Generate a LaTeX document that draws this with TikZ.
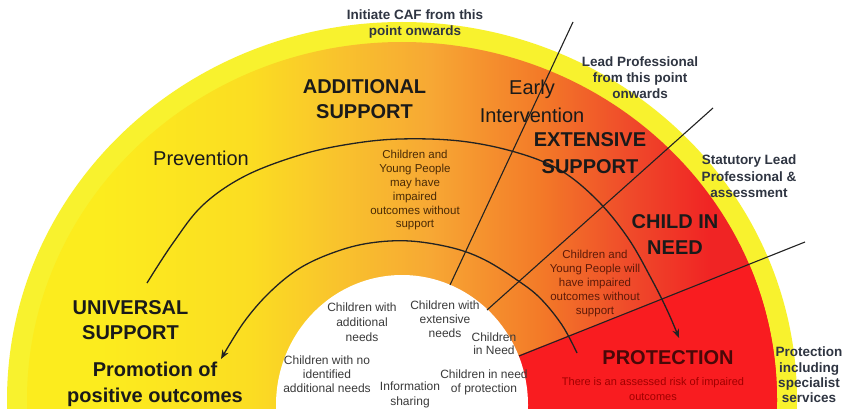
\documentclass[tikz,border=0pt]{standalone}
\usepackage{fontspec}
\setmainfont{Liberation Sans}
\usetikzlibrary{arrows.meta}
\definecolor{band}{HTML}{F8F22E}
\definecolor{g0}{HTML}{FCEC1E}
\definecolor{g1}{HTML}{FBDD22}
\definecolor{g2}{HTML}{F9C52C}
\definecolor{g3}{HTML}{F7A834}
\definecolor{g4}{HTML}{F37A28}
\definecolor{g5}{HTML}{EF4A2A}
\definecolor{g6}{HTML}{F02424}
\definecolor{protred}{HTML}{F91C20}
\definecolor{slate}{HTML}{2F3542}
\definecolor{bigtxt}{HTML}{1A1A1A}
\definecolor{browntxt}{HTML}{4A2A05}
\definecolor{redbrown}{HTML}{5E1A08}
\definecolor{graytxt}{HTML}{3A3A3A}
\definecolor{protdark}{HTML}{4A0808}
\definecolor{risktxt}{HTML}{A00000}
\definecolor{linecol}{HTML}{222222}
\tikzset{
  bigbold/.style={font=\bfseries\fontsize{20}{25}\selectfont, align=center, inner sep=0pt, text=bigtxt},
  bigreg/.style={font=\fontsize{20}{28}\selectfont, align=center, inner sep=0pt, text=bigtxt},
  smallbold/.style={font=\bfseries\fontsize{13.5}{16}\selectfont, align=center, inner sep=0pt, text=slate},
  orangetxt/.style={font=\fontsize{11.5}{13.8}\selectfont, align=center, inner sep=0pt},
  whitetxt/.style={font=\fontsize{12}{14.5}\selectfont, align=center, inner sep=0pt, text=graytxt},
  divider/.style={draw=linecol, line width=1.1pt},
  flowarc/.style={draw=linecol, line width=1.3pt},
}
\begin{document}
\begin{tikzpicture}[x=1pt,y=-1pt]
\useasboundingbox (0,0) rectangle (845,409);
\fill[white] (0,0) rectangle (845,409);
\begin{scope}
  \clip (0,0) rectangle (845,409);
  \fill[band] (402,400) ellipse [x radius=395pt, y radius=378pt];
  \begin{scope}
    \clip (402,400) ellipse [x radius=375pt, y radius=358pt];
    \fill[g0] (0,0) rectangle (100.5,409);
    \shade[left color=g0, right color=g1] (100,0) rectangle (250.5,409);
    \shade[left color=g1, right color=g2] (250,0) rectangle (330.5,409);
    \shade[left color=g2, right color=g3] (330,0) rectangle (430.5,409);
    \shade[left color=g3, right color=g4] (430,0) rectangle (540.5,409);
    \shade[left color=g4, right color=g5] (540,0) rectangle (630.5,409);
    \shade[left color=g5, right color=g6] (630,0) rectangle (710.5,409);
    \fill[g6] (710,0) rectangle (845,409);
    \fill[protred] (470,374.6) -- (845,226.2) -- (845,420) -- (470,420) -- cycle;
  \end{scope}
  \fill[white] (402,405) ellipse [x radius=126pt, y radius=130pt];
\end{scope}

% divider lines
\coordinate (l1a) at (573,22);  \coordinate (l1b) at (450,285);
\coordinate (l2a) at (713,108); \coordinate (l2b) at (487,310);
\coordinate (l3a) at (805,242); \coordinate (l3b) at (519,356);
\draw[divider] (l1a) -- (l1b);
\draw[divider] (l2a) -- (l2b);
\draw[divider] (l3a) -- (l3b);

% outer arc
\coordinate (a1) at (147,283);  \coordinate (a2) at (173,243);
\coordinate (a3) at (203,205);  \coordinate (a4) at (245,176);
\coordinate (a5) at (300,155);  \coordinate (a6) at (350,144);
\coordinate (a7) at (400,139);  \coordinate (a8) at (460,141);
\coordinate (a9) at (515,152);  \coordinate (a10) at (560,170);
\coordinate (a11) at (597,200); \coordinate (a12) at (628,238);
\coordinate (a13) at (652,280); \coordinate (a14) at (668,312);
\coordinate (a15) at (679,338);
\draw[flowarc, -{Stealth[length=9pt,width=7pt]}] plot[smooth, tension=0.6] coordinates {(a1) (a2) (a3) (a4) (a5) (a6) (a7) (a8) (a9) (a10) (a11) (a12) (a13) (a14) (a15)};

% inner arc
\coordinate (b1) at (577,353);  \coordinate (b2) at (562,325);
\coordinate (b3) at (540,298);  \coordinate (b4) at (517,280);
\coordinate (b5) at (485,260);  \coordinate (b6) at (453,248);
\coordinate (b7) at (410,241);  \coordinate (b8) at (370,243);
\coordinate (b9) at (335,252);  \coordinate (b10) at (300,268);
\coordinate (b11) at (270,292); \coordinate (b12) at (244,322);
\coordinate (b13) at (221,359);
\draw[flowarc, -{Stealth[length=9pt,width=7pt]}] plot[smooth, tension=0.6] coordinates {(b1) (b2) (b3) (b4) (b5) (b6) (b7) (b8) (b9) (b10) (b11) (b12) (b13)};

% labels
\node[smallbold] (caf) at (415,24) {Initiate CAF from this\\point onwards};
\node[bigbold] (add) at (364.5,99.5) {ADDITIONAL\\SUPPORT};
\node[bigreg] (early) at (532,101) {Early\\Intervention};
\node[bigreg] (prev) at (201,158) {Prevention};
\node[smallbold] (lead) at (640,78) {Lead Professional\\from this point\\onwards};
\node[bigbold, font=\bfseries\fontsize{20}{27}\selectfont] (ext) at (590,153.5) {EXTENSIVE\\SUPPORT};
\node[smallbold, font=\bfseries\fontsize{13.5}{16.5}\selectfont] (stat) at (749,176.5) {Statutory Lead\\Professional \&\\assessment};
\node[bigbold, font=\bfseries\fontsize{20}{26}\selectfont] (cin) at (675,235) {CHILD IN\\NEED};
\node[orangetxt, text=browntxt] (may) at (415,190.5) {Children and\\Young People\\may have\\impaired\\outcomes without\\support};
\node[orangetxt, text=redbrown, font=\fontsize{11.5}{14}\selectfont] (will) at (595,284) {Children and\\Young People will\\have impaired\\outcomes without\\support};
\node[bigbold] (univ) at (130.5,320.5) {UNIVERSAL\\SUPPORT};
\node[bigbold, font=\bfseries\fontsize{20}{26}\selectfont] (promo) at (155,384) {Promotion of\\positive outcomes};
\node[whitetxt, font=\fontsize{12}{15}\selectfont] (w1) at (362,322) {Children with\\additional\\needs};
\node[whitetxt, font=\fontsize{12}{14}\selectfont] (w2) at (445,319) {Children with\\extensive\\needs};
\node[whitetxt, font=\fontsize{12}{13}\selectfont] (w3) at (494,343.5) {Children\\in Need};
\node[whitetxt, font=\fontsize{12}{14}\selectfont] (w4) at (327,374) {Children with no\\identified\\additional needs};
\node[whitetxt, font=\fontsize{12}{15}\selectfont] (w5) at (410,394.5) {Information\\sharing};
\node[whitetxt, font=\fontsize{12}{14}\selectfont] (w6) at (484,382) {Children in need\\of protection};
\node[bigbold, text=protdark] (prot) at (668,358) {PROTECTION};
\node[orangetxt, text=risktxt, font=\fontsize{11}{15}\selectfont] (risk) at (653,389.5) {There is an assessed risk of impaired\\outcomes};
\node[smallbold, font=\bfseries\fontsize{13.5}{15.3}\selectfont] (pis) at (809,375) {Protection\\including\\specialist\\services};
\end{tikzpicture}
\end{document}
